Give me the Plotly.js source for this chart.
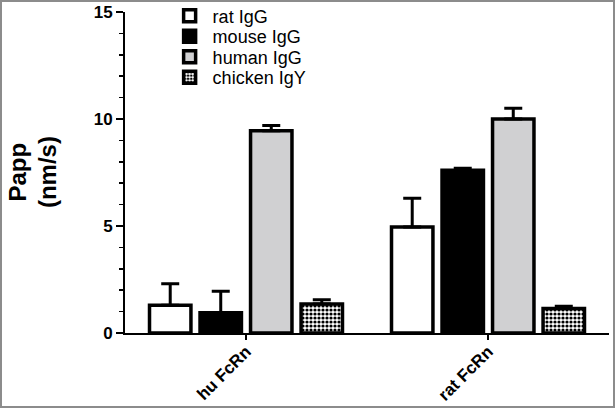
<!DOCTYPE html>
<html>
<head>
<meta charset="utf-8">
<script src="https://cdn.plot.ly/plotly-3.0.1.min.js"></script>
<style>
html,body{margin:0;padding:0;background:#fff;}
#chart{width:611px;height:404px;border:2px solid #8c8c8c;}
</style>
</head>
<body>
<div id="chart"></div>
<script>
const categories = ["hu FcRn", "rat FcRn"];
const seriesNames = ["rat IgG", "mouse IgG", "human IgG", "chicken IgY"];
const ratIgG = [1.3, 4.95];
const ratIgGErr = [1.0, 1.35];
const mouseIgG = [0.95, 7.6];
const mouseIgGErr = [1.0, 0.1];
const humanIgG = [9.45, 10.0];
const humanIgGErr = [0.25, 0.5];
const chickenIgY = [1.35, 1.15];
const chickenIgYErr = [0.2, 0.1];
const yTicks = [0, 5, 10, 15];

const F = "Liberation Sans, Arial, sans-serif";
const legendNames = ["legend", "legend2", "legend3", "legend4"];
function mk(i, y, err, color, pattern) {
  const m = {color: color, line: {color: "#000", width: 3.5}};
  if (pattern) m.pattern = pattern;
  return {
    type: "bar", name: seriesNames[i], x: categories, y: y, legend: legendNames[i],
    marker: m,
    error_y: {type: "data", array: err, arrayminus: err.map(() => 0), symmetric: false,
              color: "#000", thickness: 3, width: 9},
  };
}
const data = [
  mk(0, ratIgG, ratIgGErr, "#ffffff"),
  mk(1, mouseIgG, mouseIgGErr, "#000000"),
  mk(2, humanIgG, humanIgGErr, "#d0d0d2"),
  mk(3, chickenIgY, chickenIgYErr, "#ffffff",
     {shape: ".", size: 4, solidity: 0.5, fgcolor: "#000", bgcolor: "#fff"}),
];
const legendRowsY = [0.9875, 0.9237, 0.8598, 0.796];
function leg(y) {
  return {x: 0.086, y: y, xanchor: "left", yanchor: "middle", itemwidth: 36,
          font: {family: F, size: 18, color: "#000"}, bgcolor: "rgba(0,0,0,0)",
          itemclick: false};
}
const layout = {
  width: 611, height: 404,
  margin: {l: 123, r: 4, t: 10, b: 73, autoexpand: false},
  paper_bgcolor: "#fff", plot_bgcolor: "#fff",
  barmode: "group", bargap: 0.165, bargroupgap: 0.18,
  showlegend: true,
  legend: leg(legendRowsY[0]),
  legend2: leg(legendRowsY[1]),
  legend3: leg(legendRowsY[2]),
  legend4: leg(legendRowsY[3]),
  xaxis: {
    type: "category", range: [-0.5, 1.5],
    showline: true, linecolor: "#000", linewidth: 2,
    ticks: "outside", ticklen: 5, tickwidth: 1.5, tickcolor: "#000",
    tickangle: -45, ticklabelstandoff: -5,
    tickfont: {family: F, size: 17, color: "#000", weight: "bold"},
    showgrid: false, zeroline: false, fixedrange: true
  },
  yaxis: {
    range: [0, 15], tickvals: yTicks, ticktext: yTicks.map(String),
    showline: true, linecolor: "#000", linewidth: 2,
    ticks: "outside", ticklen: 7, tickwidth: 2, tickcolor: "#000",
    minor: {dtick: 1, ticks: "outside", ticklen: 4, tickwidth: 1.5, tickcolor: "#000", showgrid: false},
    tickfont: {family: F, size: 17, color: "#000", weight: "bold"},
    showgrid: false, zeroline: false, fixedrange: true
  },
  annotations: [
    {text: "Papp", xref: "paper", yref: "paper", x: -0.223, y: 0.5, xanchor: "center", yanchor: "middle",
     textangle: -90, showarrow: false, font: {family: F, size: 24, color: "#000", weight: "bold"}},
    {text: "(nm/s)", xref: "paper", yref: "paper", x: -0.16, y: 0.5, xanchor: "center", yanchor: "middle",
     textangle: -90, showarrow: false, font: {family: F, size: 24, color: "#000", weight: "bold"}}
  ]
};
Plotly.newPlot("chart", data, layout, {displayModeBar: false, staticPlot: true});
</script>
</body>
</html>
